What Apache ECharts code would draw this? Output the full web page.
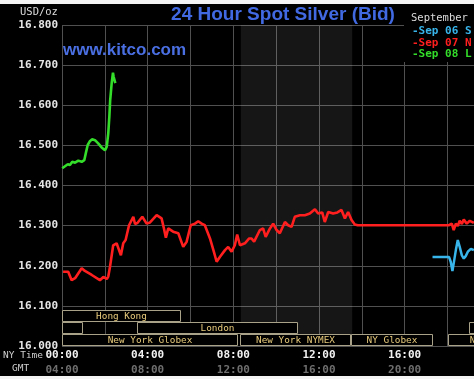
<!DOCTYPE html>
<html><head><meta charset="utf-8">
<script src="https://cdn.jsdelivr.net/npm/echarts@6/dist/echarts.min.js"></script>
<style>html,body{margin:0;padding:0;background:#000;}#c{width:474px;height:379px;}</style>
</head><body><div id="c"></div>
<script>
// ---- texts ----
const chartTitle = '24 Hour Spot Silver (Bid)';
const siteText = 'www.kitco.com';
const unitText = 'USD/oz';
const legendTitle = 'September';
const legendNames = ['-Sep 06 S', '-Sep 07 N', '-Sep 08 L'];
const nyTimeLabel = 'NY Time';
const gmtLabel = 'GMT';

// ---- series values: [hour (NY time), price] ----
const sep06 = [[17.30,16.222],[18.07,16.222],[18.15,16.210],[18.23,16.187],[18.29,16.206],[18.39,16.239],[18.48,16.264],[18.57,16.247],[18.67,16.226],[18.76,16.218],[18.85,16.224],[18.95,16.235],[19.09,16.242],[19.23,16.239]];
const sep07 = [[0.05,16.185],[0.29,16.185],[0.45,16.164],[0.61,16.169],[0.92,16.194],[1.07,16.187],[1.39,16.177],[1.77,16.164],[1.93,16.172],[2.09,16.167],[2.16,16.173],[2.24,16.197],[2.39,16.251],[2.55,16.256],[2.75,16.226],[2.86,16.256],[2.97,16.264],[3.13,16.301],[3.33,16.322],[3.41,16.304],[3.53,16.307],[3.75,16.322],[3.95,16.305],[4.11,16.308],[4.42,16.326],[4.65,16.318],[4.76,16.293],[4.85,16.270],[4.96,16.293],[5.19,16.285],[5.43,16.281],[5.66,16.247],[5.82,16.260],[6.01,16.301],[6.21,16.305],[6.36,16.311],[6.52,16.305],[6.67,16.301],[6.91,16.268],[7.09,16.235],[7.22,16.210],[7.37,16.222],[7.61,16.239],[7.76,16.247],[7.92,16.235],[8.07,16.251],[8.18,16.278],[8.31,16.251],[8.54,16.256],[8.74,16.268],[8.85,16.268],[8.97,16.260],[9.24,16.289],[9.39,16.293],[9.51,16.272],[9.71,16.293],[9.86,16.305],[10.02,16.289],[10.17,16.281],[10.41,16.309],[10.56,16.301],[10.72,16.297],[10.87,16.322],[11.11,16.326],[11.34,16.326],[11.57,16.330],[11.81,16.341],[11.96,16.330],[12.15,16.333],[12.27,16.309],[12.43,16.334],[12.66,16.330],[12.86,16.333],[13.05,16.339],[13.21,16.318],[13.36,16.334],[13.52,16.314],[13.67,16.303],[13.81,16.301],[18.07,16.301],[18.13,16.297],[18.20,16.305],[18.29,16.289],[18.39,16.305],[18.48,16.299],[18.57,16.312],[18.67,16.304],[18.76,16.315],[18.90,16.305],[19.04,16.312],[19.23,16.307]];
const sep08 = [[0.01,16.443],[0.14,16.448],[0.27,16.453],[0.37,16.451],[0.48,16.459],[0.61,16.457],[0.76,16.462],[0.92,16.459],[1.04,16.463],[1.11,16.480],[1.20,16.501],[1.31,16.511],[1.41,16.515],[1.54,16.513],[1.69,16.505],[1.85,16.495],[2.01,16.488],[2.09,16.497],[2.16,16.530],[2.21,16.571],[2.25,16.613],[2.32,16.655],[2.38,16.681],[2.41,16.671],[2.44,16.675],[2.49,16.655]];

// ---- axis values ----
const yMin = 16.0, yMax = 16.8, yStep = 0.1;
const xMin = 0, xMax = 24, xStep = 2, xLabelEvery = 4, gmtOffset = 4;

// ---- trading sessions (hours) ----
const sessionNames = ['Hong Kong', '', 'London', '', 'New York Globex', 'New York NYMEX', 'NY Globex', 'New York Globex'];
const sessionStart = [0, 0, 3.5, 19, 0, 8.33, 13.5, 18];
const sessionEnd   = [5.55, 1.0, 11.0, 24, 8.22, 13.5, 17.3, 24];
const sessionRow   = [2, 1, 1, 1, 0, 0, 0, 0];
const nymexHours = [8.35, 13.55];
const rowHeight = 0.03;

const pad = v => String(v).padStart(2, '0') + ':00';
const mono = '"DejaVu Sans Mono", "Liberation Mono", monospace';
const gridColor = '#505050';

const chart = echarts.init(document.getElementById('c'), null, {renderer: 'canvas'});
const sessionData = sessionNames.map((n, i) => [sessionStart[i], sessionEnd[i], sessionRow[i]]);

const option = {
  backgroundColor: '#000',
  animation: false,
  grid: {left: 62, top: 25, width: 514, height: 321, containLabel: false, outerBoundsMode: 'none'},
  xAxis: [{
    type: 'value', min: xMin, max: xMax, interval: xStep,
    axisLine: {show: false}, axisTick: {show: false},
    splitLine: {show: true, lineStyle: {color: gridColor, width: 1}},
    axisLabel: {
      showMinLabel: true, showMaxLabel: true, margin: 4,
      formatter: v => (v % xLabelEvery === 0 ? pad(v) : ''),
      color: '#f2f2f2', fontFamily: mono, fontWeight: 'bold', fontSize: 11
    }
  }, {
    type: 'value', min: xMin, max: xMax, interval: xStep, position: 'bottom', offset: 15,
    axisLine: {show: false}, axisTick: {show: false}, splitLine: {show: false},
    axisLabel: {
      showMinLabel: true, margin: 4,
      formatter: v => (v % xLabelEvery === 0 ? pad(v + gmtOffset) : ''),
      color: '#6e6e6e', fontFamily: mono, fontWeight: 'bold', fontSize: 11
    }
  }],
  yAxis: {
    type: 'value', min: yMin, max: yMax, interval: yStep,
    axisLine: {show: false}, axisTick: {show: false},
    splitLine: {show: true, lineStyle: {color: gridColor, width: 1}},
    axisLabel: {
      formatter: v => v.toFixed(3), margin: 4,
      color: '#e6e6e6', fontFamily: mono, fontWeight: 'bold', fontSize: 11
    }
  },
  series: [
    {
      name: 'Sep 07', type: 'line', data: sep07, showSymbol: false, symbol: 'none',
      lineStyle: {color: '#ff1f1f', width: 2.6}, z: 3,
      markArea: {
        silent: true,
        itemStyle: {color: 'rgba(255,255,255,0.085)'},
        data: [[{xAxis: nymexHours[0]}, {xAxis: nymexHours[1]}]]
      }
    },
    {
      name: 'Sep 06', type: 'line', data: sep06, showSymbol: false, symbol: 'none',
      lineStyle: {color: '#38b6ec', width: 2.5}, z: 3
    },
    {
      name: 'Sep 08', type: 'line', data: sep08, showSymbol: false, symbol: 'none',
      lineStyle: {color: '#33dd2a', width: 2.6}, z: 3
    },
    {
      name: 'sessions', type: 'custom', z: 4,
      data: sessionData,
      encode: {x: [0, 1]},
      renderItem: (params, api) => {
        const s = api.value(0), e = api.value(1), r = api.value(2);
        const yb = yMin + r * rowHeight, yt = yb + rowHeight;
        const p0 = api.coord([s, yt]), p1 = api.coord([e, yb]);
        const x0 = Math.round(p0[0]) + 0.5, y0 = Math.round(p0[1]) + 0.5;
        const x1 = Math.round(p1[0]) - 0.5, y1 = Math.round(p1[1]) - 0.5;
        const name = sessionNames[params.dataIndex];
        return {
          type: 'group',
          children: [
            {type: 'rect', shape: {x: x0, y: y0, width: x1 - x0, height: y1 - y0},
             style: {fill: '#000', stroke: '#a9a289', lineWidth: 1}},
            {type: 'text', style: {text: name, x: (x0 + x1) / 2, y: (y0 + y1) / 2 + 0.5,
             fill: '#e6c97a', font: '9.4px ' + mono, align: 'center', verticalAlign: 'middle',
             textAlign: 'center', textVerticalAlign: 'middle'}}
          ]
        };
      }
    }
  ],
  graphic: [
    {type: 'rect', z: 100, shape: {x: 0, y: 0, width: 474, height: 4}, style: {fill: '#f4f4f4'}},
    {type: 'rect', z: 100, shape: {x: 0, y: 376, width: 474, height: 3}, style: {fill: '#f4f4f4'}},
    {type: 'rect', z: 100, shape: {x: 404, y: 4, width: 70, height: 58}, style: {fill: '#000'}},
    {type: 'text', z: 101, style: {text: chartTitle, x: 283, y: 15, fill: '#4169e1',
      font: 'bold 19px "Liberation Sans", Arial, sans-serif', align: 'center', verticalAlign: 'middle'}},
    {type: 'text', z: 101, style: {text: siteText, x: 63, y: 50, fill: '#4a6fe3',
      font: 'bold 17px "Liberation Sans", Arial, sans-serif', align: 'left', verticalAlign: 'middle'}},
    {type: 'text', z: 101, style: {text: unitText, x: 20, y: 12, fill: '#dcdcdc',
      font: '10.5px ' + mono, align: 'left', verticalAlign: 'middle'}},
    {type: 'text', z: 101, style: {text: legendTitle, x: 411, y: 18, fill: '#dcdcdc',
      font: '10.5px ' + mono, align: 'left', verticalAlign: 'middle'}},
    {type: 'text', z: 101, style: {text: legendNames[0], x: 412, y: 31.5, fill: '#38b6ec',
      font: 'bold 11px ' + mono, align: 'left', verticalAlign: 'middle'}},
    {type: 'text', z: 101, style: {text: legendNames[1], x: 412, y: 43, fill: '#ff1f1f',
      font: 'bold 11px ' + mono, align: 'left', verticalAlign: 'middle'}},
    {type: 'text', z: 101, style: {text: legendNames[2], x: 412, y: 54.5, fill: '#33dd2a',
      font: 'bold 11px ' + mono, align: 'left', verticalAlign: 'middle'}},
    {type: 'text', z: 99, style: {text: nyTimeLabel, x: 3, y: 356, fill: '#cfcfcf',
      font: '9.5px ' + mono, align: 'left', verticalAlign: 'middle'}},
    {type: 'text', z: 101, style: {text: gmtLabel, x: 12, y: 369, fill: '#cfcfcf',
      font: '9.5px ' + mono, align: 'left', verticalAlign: 'middle'}}
  ]
};
chart.setOption(option);
</script>
</body></html>
